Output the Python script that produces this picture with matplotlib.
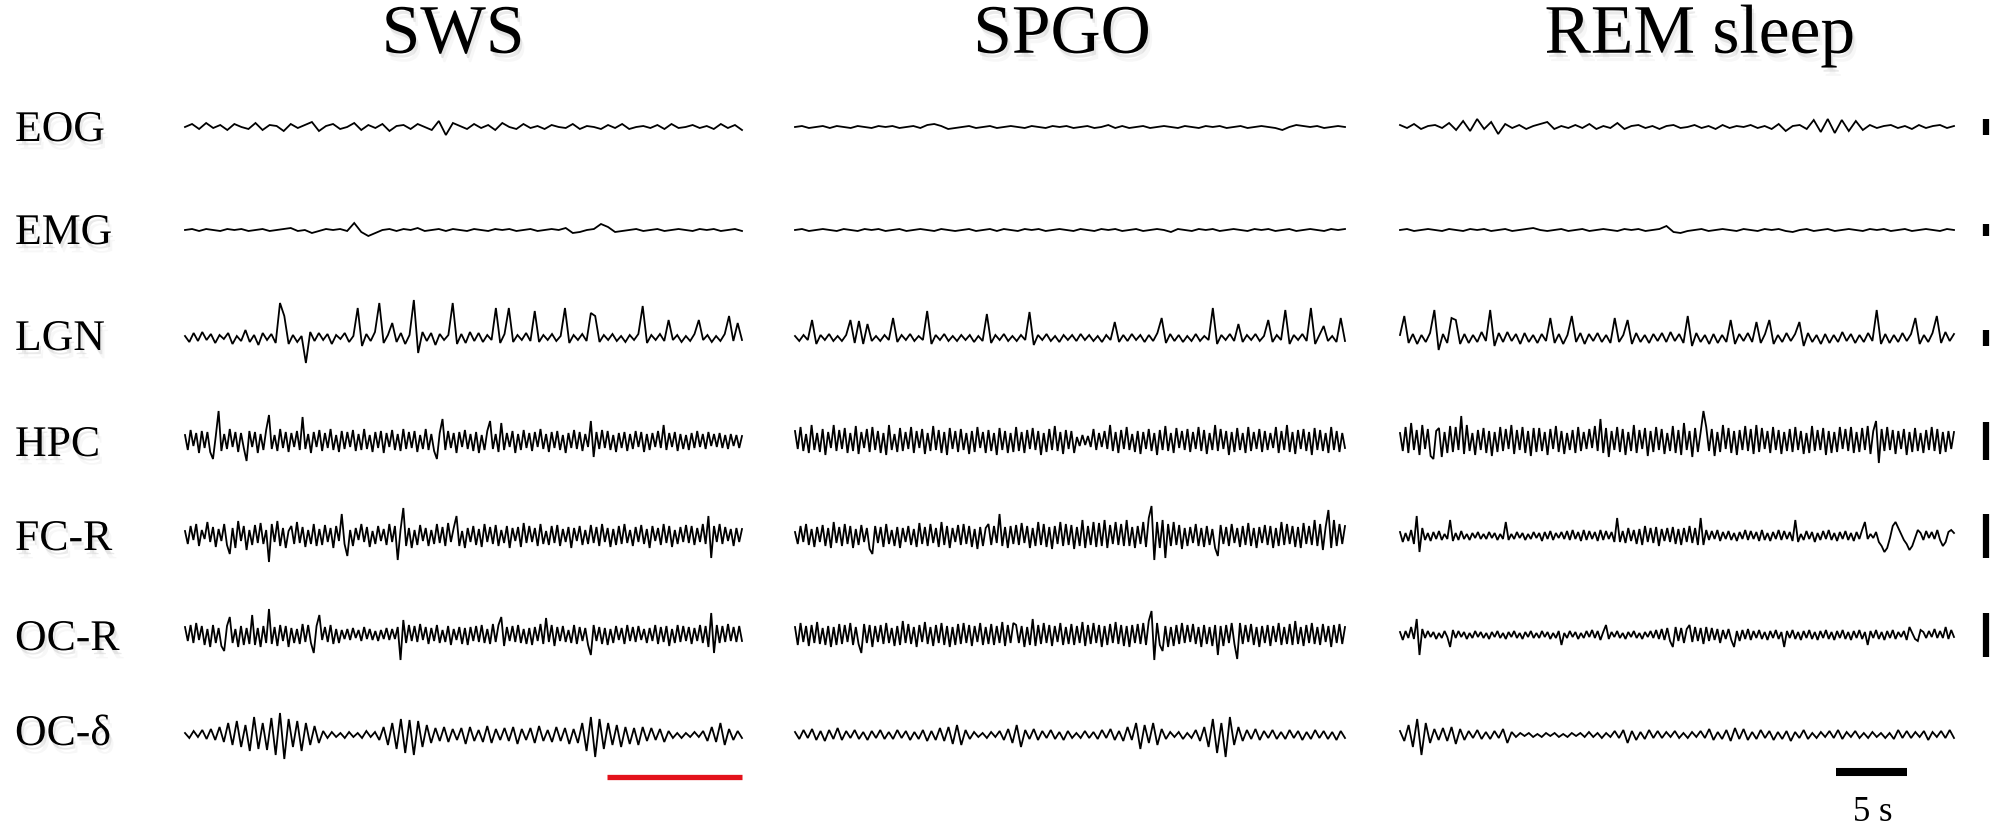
import numpy as np
import matplotlib
matplotlib.use("Agg")
import matplotlib.pyplot as plt
import matplotlib.patheffects as pe

# имена каналов и состояний
CHANNELS = ["EOG", "EMG", "LGN", "HPC", "FC-R", "OC-R", "OC-δ"]
STATES = ["SWS", "SPGO", "REM sleep"]

# амплитуды (примерно, в пикселях; вверх = +)
SWS_EOG = [0, 3, -2, 4, -1, 2, -3, 3, 0, -2, 4, -3, 2, 1, -4, 3, -1, 2, 5, -4,
           1, 3, -2, 0, 4, -3, 2, -1, 3, -4, 1, 2, -2, 3, 0, -3, 6, -8, 4, 1,
           -2, 3, -1, 2, -3, 4, 0, -2, 3, -1, 1, -2, 2, 0, -1, 3, -2, 1, 0, -2,
           2, -1, 3, -2, 0, 1, -1, 2, -2, 3, -1, 0, 2, -1, 1, -2, 3, -1, 2, -3]
SWS_EMG = [0, 1, -1, 1, 0, -1, 1, 0, 1, -1, 0, 1, -1, 0, 1, 2, -1, 0, -3, -1,
           1, 0, 1, -1, 7, -2, -6, -3, 0, 1, -1, 1, 0, 2, -1, 0, 1, -1, 1, 0,
           -1, 1, 0, -1, 1, 0, 1, -1, 0, 1, -1, 0, 1, 0, 2, -3, -2, 0, 1, 6,
           3, -2, -1, 0, 1, -1, 0, 1, -1, 0, 1, 0, -1, 1, 0, 1, -1, 0, 1, -1]
SWS_LGN = [2, -4, 5, -3, 6, -2, 4, -5, 3, -1, 5, -6, 2, -3, 8, -4, 3, -7, 5, -2,
           4, -5, 35, 22, -6, 3, -4, 2, -25, 6, -3, 5, -2, 4, -6, 3, -1, 5, -4, 2,
           30, -8, 4, -3, 6, 35, -5, 3, 15, -4, 5, -6, 3, 38, -15, 6, -3, 5, -7, 4,
           -2, 3, 35, -6, 4, -5, 6, -3, 5, -4, 3, -2, 30, -5, 4, 30, -4, 3, -2, 5,
           -3, 27, -4, 3, -2, 4, -3, 2, 30, -5, 3, -2, 4, -3, 25, 22, -4, 3, -2, 4,
           -3, 2, -4, 3, -2, 4, 32, -5, 3, -2, 4, -3, 18, -2, 3, -4, 2, -3, 4, 18,
           -2, 3, -4, 2, -3, 4, 22, -3, 15, -2]
SWS_HPC = [6, -9, 11, -5, 8, -12, 10, -7, 9, -11, -18, 5, 30, -10, 7, -8, 12, -6, 9, -11,
           8, -7, -20, 10, -6, 9, -12, 7, -9, 11, 26, -8, 6, -10, 12, -7, 9, -11, 8, -6,
           10, -9, 24, -8, 7, -12, 9, -6, 11, -10, 8, -7, 12, -9, 6, -11, 10, -8, 9, -6,
           11, -10, 7, -9, 12, -8, 6, -11, 9, -7, 10, -12, 8, -6, 11, -9, 7, -10, 12, -8,
           9, -7, 10, -11, 6, -8, 12, -9, 7, -10, -18, 8, 22, -9, 10, -7, 8, -12, 9, -6,
           11, -8, 7, -10, 9, -12, 6, -9, 10, 20, -8, 7, -11, 18, -9, 8, -6, 10, -12, 7,
           -9, 11, -7, 8, -10, 9, -6, 12, -8, 7, -11, 9, -7, 10, -9, 6, -12, 8, -7, 11,
           -8, 9, -10, 7, -6, 20, -16, 9, -8, 11, -7, 10, -9, 6, -11, 8, -7, 9, -10, 7,
           -8, 10, -6, 9, -11, 7, -9, 8, -6, 10, -7, 16, -9, 8, -6, 9, -10, 7, -8, 6,
           -9, 8, -7, 10, -6, 7, -8, 9, -5, 7, -6, 8, -7, 6, -8, 7, -5, 6, -7, 5]
SWS_FCR = [5, -8, 10, -4, 12, -10, 6, -3, 14, -6, 9, -11, 7, -5, 12, -9, -18, 8, -12, 15,
           -5, 10, -14, 6, -9, 11, -7, 13, -8, 6, -26, 12, -6, 15, -10, 8, -12, 5, 10, -8,
           14, -7, 9, -11, 6, -8, 12, -10, 7, -9, 11, -6, 8, -12, 10, -5, 22, -8, -20, 6,
           -10, 8, -4, 12, -6, 9, -11, 5, -8, 10, -5, 7, -9, 12, -6, 10, -24, 6, 28, -10,
           8, -12, 6, -9, 11, -5, 8, -10, 6, -8, 12, -7, 9, -10, 13, -6, 8, 20, -10, 5,
           -12, 8, -6, 10, -9, 7, -11, 12, -6, 9, -8, 11, -10, 6, -7, 10, -12, 8, -5, 9,
           -11, 13, -7, 10, -6, 8, -10, 12, -8, 5, -9, 10, -7, 11, -10, 7, -6, 9, -12, 8,
           -5, 10, -9, 6, -8, 11, -7, 9, -10, 12, -6, 8, -11, 7, -9, 10, -8, 12, -7, 6,
           -10, 9, -6, 11, -8, 7, -12, 10, -5, 8, -9, 12, -7, 10, -11, 6, -8, 9, -6, 11,
           -7, 10, -9, 8, -6, 12, -8, 20, -22, 10, -6, 12, -8, 9, -5, 7, -10, 8, -6, 7]
SWS_OCR = [8, -6, 10, -8, 12, -5, 9, -10, 6, -12, 10, -8, 7, -11, -16, 9, 18, -8, 6, -12,
           9, -10, 7, -9, 20, -10, 7, -12, 9, -8, 26, -9, 8, -11, 10, -6, 9, -12, 7, -8,
           6, -9, 11, -7, 10, -8, -18, 9, 20, -5, 8, -7, 10, -9, 6, -8, 5, -4, 6, -5,
           7, -3, 5, -6, 8, -4, 6, -5, 4, -6, 5, -4, 7, -5, 6, -4, 8, -25, 15, -8,
           10, -6, 9, -7, 11, -5, 8, -9, 7, -6, 10, -8, 5, -7, 9, -10, 6, -5, 8, -9,
           7, -10, 8, -6, 9, -7, 10, -8, 6, -9, 11, -7, 10, 18, -11, 8, -6, 9, -7, 10,
           -8, 6, -9, 7, -10, 8, -6, 11, -9, 17, -7, 10, -11, 8, -6, 9, -7, 5, -8, 10,
           -9, 8, -6, 7, -10, -20, 10, -6, 8, -9, 7, -10, 6, -8, 9, -5, 7, -9, 10, -6,
           8, -7, 9, -5, 6, -8, 7, -6, 10, -9, 8, -7, 9, -11, 6, -8, 10, -7, 9, -6,
           8, -9, 7, -6, 10, -8, 9, -12, 22, -18, 10, -8, 9, -7, 11, -6, 8, -7, 9, -6]
SWS_DELTA = [2, -3, 4, -2, 5, -4, 6, -5, 8, -7, 12, -10, 14, -12, 10, -16, 18, -14, 12, -15,
             17, -20, 22, -24, 16, -12, 14, -16, 12, -10, 9, -8, 4, -3, 3, -2, 2, -3, 3, -2,
             2, -3, 4, -2, 3, -5, 8, -10, 12, -14, 16, -18, 15, -20, 14, -12, 10, -8, 7, -6,
             8, -7, 6, -5, 7, -9, 8, -6, 5, -7, 9, -8, 6, -5, 7, -6, 8, -9, 6, -5,
             7, -8, 9, -6, 5, -7, 8, -6, 7, -9, 6, -8, 12, -16, 18, -22, 16, -14, 12, -10,
             10, -12, 8, -9, 7, -10, 8, -6, 7, -5, 6, -7, 4, -3, 2, -3, 2, -2, 3, -2,
             4, -6, 8, -7, 12, -10, 6, -5, 4, -3]

SPGO_EOG = [0, 1, -1, 0, 1, -1, 1, 0, -1, 1, 0, -1, 1, 0, 1, -1, 0, 1, -1, 2,
            3, 1, -2, -1, 0, 1, -1, 0, 1, -1, 0, 1, 0, -1, 1, 0, -1, 1, 0, 1,
            -1, 0, 1, -1, 0, 2, -1, 1, -1, 0, 1, -1, 0, 1, 0, -1, 1, 0, -1, 1,
            0, 1, -1, 0, 1, -1, 0, 1, 0, -1, -3, 0, 2, 1, 0, 1, -1, 0, 1, 0]
SPGO_EMG = [0, 1, -1, 0, 1, 0, -1, 1, 0, -1, 1, 0, 1, -1, 0, 1, -1, 0, 1, 0,
            -1, 1, 0, -1, 0, 1, -1, 0, 1, -1, 1, 0, -1, 1, 0, 1, -1, 0, 1, 0,
            -1, 1, 0, -1, 1, 0, 1, -1, 0, 1, -1, 0, 1, 0, -2, 1, 0, -1, 1, 0,
            1, -1, 0, 1, 0, -1, 1, 0, 1, -1, 0, 1, -1, 0, 1, 0, -1, 1, 0, 1]
SPGO_LGN = [2, -3, 3, -2, 18, -6, 3, -2, 4, -3, 2, -3, 3, 18, -5, 17, -6, 14, -3, 2,
            -3, 3, -2, 20, -4, 3, -2, 4, -3, 2, -2, 27, -6, 3, -2, 4, -3, 2, -3, 3,
            -2, 3, -4, 2, -3, 24, -5, 3, -2, 4, -3, 2, -3, 3, -2, 26, -7, 3, -2, 4,
            -3, 2, -4, 3, -2, 3, -3, 4, -2, 3, -3, 2, -4, 3, -2, 16, -4, 3, -3, 4,
            -2, 3, -4, 3, -3, 5, 20, -5, 4, -3, 3, -4, 2, -3, 4, -3, 2, -2, 30, -6,
            3, -2, 4, -3, 14, -4, 3, -2, 4, -3, 2, 18, -4, 3, -2, 28, -6, 3, -2, 4,
            -3, 30, -6, 3, 12, -3, 2, -4, 20, -3]
SPGO_HPC = [10, -8, 14, -10, 7, -12, 16, -9, 8, -11, 12, -14, 9, -7, 16, -10, 11, -8, 13, -12,
            8, -10, 15, -13, 9, -7, 12, -11, 14, -9, 10, -12, 8, -14, 16, -9, 7, -11, 13, -10,
            9, -8, 14, -12, 10, -7, 12, -13, 8, -10, 15, -9, 11, -12, 9, -14, 13, -8, 10, -11,
            12, -9, 8, -13, 10, -11, 14, -7, 9, -12, 11, -10, 8, -14, 13, -9, 10, -12, 8, -11,
            14, -10, 9, -12, 11, -8, 13, -9, 10, -14, 8, -11, 12, -9, 15, -10, 9, -13, 11, -8,
            10, -12, 4, -5, 6, -4, 5, -6, 12, -9, 8, -6, 10, -8, 16, -10, 9, -12, 11, -8,
            14, -9, 7, -11, 10, -13, 9, -8, 12, -10, 8, -14, 11, -9, 15, -10, 8, -12, 13, -7,
            10, -9, 12, -11, 9, -8, 14, -10, 11, -13, 8, -9, 16, -10, 12, -8, 10, -14, 9, -11,
            13, -9, 8, -12, 14, -10, 9, -8, 12, -11, 10, -9, 8, -7, 14, -12, 10, -9, 16, -11,
            9, -13, 11, -8, 12, -10, 9, -14, 13, -9, 11, -10, 8, -12, 14, -9, 10, -11, 8, -7]
SPGO_FCR = [4, -8, 10, -6, 12, -9, 7, -11, 9, -6, 11, -10, 8, -12, 14, -7, 9, -10, 12, -8,
            10, -12, 7, -9, 11, -6, 8, -13, -18, 10, -7, 9, -11, 12, -8, 6, -10, 9, -12, 8,
            -6, 10, -9, 7, -11, 13, -8, 9, -10, 12, -7, 8, -11, 14, -9, 10, -12, 8, -6, 11,
            -9, 12, -8, 10, -11, 7, -13, 9, -10, 8, 12, -9, 10, -7, 22, -10, 9, -12, 10, -8,
            11, -9, 13, -7, 10, -12, 8, -10, 14, -9, 12, -11, 9, -13, 10, -8, 14, -10, 12, -9,
            11, -13, 9, -10, 16, -12, 10, -9, 14, -11, 13, -10, 16, -12, 11, -8, 14, -9, 12, -10,
            16, -10, 9, -12, 10, -8, 14, -11, 18, 30, -24, 14, -12, 16, -22, 12, -10, 14, -9, 11,
            -13, 8, -10, 9, -7, 12, -10, 8, -11, 10, -9, 7, -12, -20, 11, -8, 9, -10, 12, -7,
            8, -11, 10, -9, 13, -10, 8, -12, 9, -7, 11, -9, 10, -12, 8, -10, 14, -9, 12, -8,
            10, -11, 9, -12, 13, -8, 10, -9, 16, -10, 12, -14, 9, 26, -12, 16, -10, 12, -8, 10]
SPGO_OCR = [8, -10, 12, -7, 9, -11, 10, -8, 13, -9, 7, -10, 9, -12, 8, -10, 11, -9, 10, -7,
            12, -10, 8, -9, -18, 11, -8, 10, -12, 9, -7, 10, -9, 12, -8, 7, -11, 9, -10, 14,
            -8, 11, -9, 8, -12, 10, -7, 13, -9, 8, -11, 10, -8, 12, -10, 9, -12, 8, -10, 11,
            -9, 12, -8, 10, -11, 9, -7, 12, -10, 8, -9, 11, -10, 9, -8, 13, -11, 10, -8, 12,
            10, -8, 9, -12, 8, -10, 16, -11, 10, -9, 12, -8, 10, -11, 9, -7, 12, -10, 8, -9,
            11, -10, 9, -8, 13, -11, 10, -9, 12, -8, 10, -12, 9, -10, 11, -8, 13, -9, 10, -11,
            9, -12, 10, -8, 11, -9, 12, -10, 14, 24, -25, 12, -10, -16, 9, -12, 8, -11, 10, -9,
            12, -8, 10, -7, 11, -9, 8, -12, 10, -9, 8, -11, 10, -20, 9, -11, 10, -8, 12, -9,
            -24, 12, -9, 10, -7, 11, -10, 8, -12, 9, -8, 10, -11, 9, -7, 12, -10, 8, -9, 11,
            -10, 14, -9, 8, -11, 10, -8, 12, -9, 8, -10, 11, -7, 9, -12, 10, -8, 11, -9, 8]
SPGO_DELTA = [3, -4, 5, -3, 6, -5, 4, -6, 5, -4, 7, -5, 4, -3, 5, -4, 3, -5, 4, -3,
              5, -4, 3, -4, 5, -3, 4, -5, 3, -4, 5, -6, 4, -5, 7, -6, 8, -9, 10, -10,
              5, -4, 3, -2, 2, -3, 3, -2, 4, -5, 6, -8, 10, -12, 5, -4, 6, -5, 4, -3,
              5, -4, 3, -5, 4, -3, 2, -3, 4, -3, 3, -4, 5, -3, 6, -5, 4, -6, 8, -5,
              12, -14, 10, -8, 12, -10, 6, -4, 3, -2, 3, -4, 2, -3, 5, -6, 8, -12, 16, -18,
              12, -22, 18, -10, 8, -6, 5, -4, 6, -5, 4, -3, 5, -4, 3, -4, 5, -3, 4, -5,
              3, -4, 5, -3, 4, -4, 3, -5, 4, -3]

REM_EOG = [2, -1, 3, -2, 1, 2, -1, 4, -3, 6, -4, 8, -2, 5, -7, 3, -1, 2, -2, 1,
           3, 5, -2, 1, -1, 2, -1, 3, -2, 1, -1, 4, -2, 1, 2, -1, 1, -2, 1, 2,
           -1, 0, 2, -1, 1, -2, 2, -1, 1, 0, 2, -1, 1, -2, 3, -4, 1, 2, -2, 7,
           -5, 8, -6, 7, -4, 6, -3, 2, -1, 1, 2, -1, 1, -2, 2, -1, 1, 2, -1, 1]
REM_EMG = [0, 1, -1, 0, 1, 0, -1, 1, 0, -1, 1, 0, 1, -1, 0, 1, -1, 0, 1, 2,
           0, -1, 0, 1, -1, 0, 1, -1, 0, 1, 0, -1, 1, 0, 1, -1, 0, 1, 4, -2,
           -3, -1, 0, 1, -1, 0, 1, 0, -1, 1, 0, -1, 1, 0, 1, -1, -2, 0, 1, -1,
           0, 1, -1, 0, 1, 0, -1, 1, 0, 1, -1, 0, 1, -1, 0, 1, 0, -1, 1, 0]
REM_LGN = [3, 22, -5, 4, -6, 3, -4, 5, 28, -12, 4, -5, 20, 18, -6, 4, -5, 3, -4, 6,
           -3, 28, -8, 5, -4, 6, -3, 4, -6, 5, -4, 3, -5, 4, -3, 20, -5, 4, -6, 3,
           22, -4, 5, -6, 4, -3, 5, -4, 3, -5, 20, -4, 3, 18, -6, 5, -4, 3, -5, 4,
           -3, 5, -4, 6, -3, 4, -5, 22, -8, 5, -4, 3, -6, 4, -5, 3, -4, 18, -6, 4,
           -3, 5, -4, 16, -5, 4, 18, -6, 3, -4, 5, -3, 4, 16, -8, 5, -4, 3, -6, 4,
           -5, 3, -4, 6, -3, 4, -5, 3, -4, 5, -3, 28, -6, 4, -5, 3, -4, 5, -3, 4,
           20, -6, 3, -4, 5, 22, -5, 6, -3, 4]
REM_HPC = [8, -10, 14, -12, 18, -9, 11, -14, 16, -8, 12, -15, -18, 10, 13, -16, 9, -12, 15, -11,
           14, -9, 25, -13, 16, -10, 8, -14, 11, -9, 13, -12, 10, -15, 9, -11, 14, -10, 12, -8,
           16, -13, 11, -9, 14, -12, 10, -15, 13, -11, 13, -10, 9, -14, 12, -8, 15, -11, 10, -13,
           8, -9, 11, -12, 14, -10, 9, -8, 12, -7, 15, -10, 22, -12, 13, -16, 10, -9, 14, -11,
           12, -14, 9, -10, 16, -12, 11, -8, 13, -15, 10, -11, 14, -9, 12, -13, 8, -10, 15, -12,
           11, -14, 18, -9, 10, -16, 13, -11, 9, 30, 14, -10, 12, -15, 9, -11, 16, -8, 13, -12,
           10, -14, 11, -9, 15, -10, 12, -13, 16, -11, 13, -8, 10, -12, 14, -9, 11, -13, 9, -10,
           12, -11, 14, -9, 10, -13, 8, -12, 15, -10, 11, -9, 13, -14, 10, -12, 9, -11, 14, -8,
           12, -10, 14, -12, 9, -11, 13, -9, 15, -13, 10, 20, -22, 12, -10, 14, -9, 11, -13, 10,
           -8, 12, -14, 9, -11, 13, -10, 8, -12, 11, -9, 14, -10, 12, -13, 9, -11, 10, -8, 9]
REM_FCR = [4, -6, 3, -5, 6, -8, 20, -16, 8, -4, 3, -5, 4, -3, 5, -4, 2, -3, 16, -5,
           3, -4, 5, -3, 2, -4, 3, -2, 4, -3, 2, -3, 4, -2, 3, -4, 2, -3, 14, -4,
           2, -3, 4, -2, 3, -4, 2, -3, 4, -2, 3, -5, 4, -3, 5, -4, 3, -2, 4, -3,
           5, -4, 6, -3, 4, -5, 6, -4, 5, -3, 4, -5, 6, -4, 5, -3, 4, -6, 18, -6,
           5, -7, 8, -5, 6, -8, 7, -9, 10, -6, 8, -7, 9, -10, 7, -5, 8, -6, 9, -8,
           7, -9, 8, -6, 10, -7, 8, -9, 18, -9, 6, -4, 5, -3, 6, -5, 4, -3, 5, -4,
           3, -5, 4, -3, 6, -4, 5, -3, 4, -5, 6, -4, 3, -5, 4, -3, 6, -4, 5, -3,
           4, -5, 16, -6, 2, -4, 5, -3, 4, -6, 3, -4, 5, -3, 6, -4, 3, -5, 4, -3,
           5, -4, 3, -5, 4, -3, 6, 14, -3, 2, -2, 4, -6, -10, -16, -12, -2, 10, 14, 8,
           2, -4, -8, -14, -10, -2, 6, 3, -4, 5, -2, 4, -3, 6, -4, -10, -6, 4, 6, 3]
REM_OCR = [3, -5, 4, -3, 8, -4, 16, -20, 6, -3, 4, -2, 3, -4, 2, -3, 4, -2, -12, 5,
           -3, 4, -2, 3, -4, 2, -3, 4, -2, 3, -3, 2, -4, 3, -2, 4, -3, 2, -4, 3,
           -2, 4, -3, 2, -4, 3, -2, 4, -3, 2, -3, 4, -2, 3, -4, 2, -3, 4, -10, 2,
           -3, 4, -2, 3, -4, 2, -3, 4, -2, 5, -3, 4, -5, 3, 10, -4, 3, -2, 4, -3,
           2, -4, 3, -2, 4, -3, 2, -4, 3, -2, 4, -3, 5, -4, 6, -5, 7, -6, -12, 8,
           -6, 7, -8, 6, 10, -7, 8, -6, 7, -9, 8, -6, 7, -5, 6, -8, 5, -4, 6, -5,
           -12, 4, -6, 5, -4, 6, -5, 4, -3, 5, -4, 3, -5, 4, -3, 5, -4, 3, -12, 4,
           -3, 5, -4, 3, -5, 4, -3, 5, -4, 3, -5, 4, -3, 5, -4, 3, -5, 4, -3, 5,
           -4, 3, -5, 4, -3, 5, -4, 3, -10, 4, -3, 5, -4, 3, -5, 4, -3, 5, -4, 3,
           -2, 4, -5, 8, 2, -4, -6, 5, 3, -3, 4, -2, 6, -3, 4, -3, 8, -4, 5, -2]
REM_DELTA = [4, -6, 10, -12, 16, -20, 12, -8, 6, -5, 7, -6, 8, -9, 6, -5, 4, -3, 5, -4,
             3, -4, 4, -3, 6, -8, 3, -2, 2, -1, 2, -2, 1, -2, 2, -1, 2, -2, 1, -2,
             2, -1, 2, -2, 3, -2, 2, -3, 2, -2, 4, -3, 5, -8, 4, -5, 3, -4, 5, -3,
             4, -3, 3, -2, 4, -3, 2, -3, 3, -2, 4, -3, 6, -5, 3, -4, 5, -6, 7, -4,
             6, -5, 3, -4, 5, -3, 4, -5, 3, -4, 4, -6, 3, -3, 5, -4, 2, -3, 3, -2,
             4, -3, 5, -4, 3, -2, 4, -3, 2, -3, 3, -2, 2, -3, 2, -4, 5, -3, 4, -3,
             3, -2, 4, -5, 3, -2, 4, -3, 5, -3]

TRACES = {
    "SWS": [SWS_EOG, SWS_EMG, SWS_LGN, SWS_HPC, SWS_FCR, SWS_OCR, SWS_DELTA],
    "SPGO": [SPGO_EOG, SPGO_EMG, SPGO_LGN, SPGO_HPC, SPGO_FCR, SPGO_OCR, SPGO_DELTA],
    "REM sleep": [REM_EOG, REM_EMG, REM_LGN, REM_HPC, REM_FCR, REM_OCR, REM_DELTA],
}

# вертикальные шкалы справа (полувысота в пикселях), у OC-δ нет
SCALE_HALF = [8, 6, 8, 19, 22, 22, None]

# ---- раскладка (пиксели исходной картинки) ----
W, H = 1997, 837
ROW_Y = [128, 231, 339, 442, 537, 636, 736]
LABEL_Y = [131, 234, 340, 446, 540, 640, 735]
COL_X = {"SWS": (185, 742), "SPGO": (795, 1345), "REM sleep": (1400, 1954)}
TITLE_X = {"SWS": 453, "SPGO": 1062, "REM sleep": 1700}

SERIF = ["Liberation Serif", "DejaVu Serif"]


def shadow():
    return [pe.SimplePatchShadow(offset=(1.5, -3), shadow_rgbFace="0.55", alpha=0.18),
            pe.SimplePatchShadow(offset=(3, -6), shadow_rgbFace="0.6", alpha=0.08),
            pe.Normal()]


def main():
    fig = plt.figure(figsize=(W / 100, H / 100), dpi=100)
    ax = fig.add_axes([0, 0, 1, 1])
    ax.set_xlim(0, W)
    ax.set_ylim(H, 0)
    ax.axis("off")

    # заголовки
    for st in STATES:
        ax.text(TITLE_X[st], 37, st, ha="center", va="center", fontsize=50,
                family=SERIF, path_effects=shadow())

    # подписи каналов
    for ch, y in zip(CHANNELS, LABEL_Y):
        ax.text(15, y, ch, ha="left", va="center", fontsize=31.5,
                family=SERIF, path_effects=shadow())

    # сами записи
    for st in STATES:
        x0, x1 = COL_X[st]
        for vals, y0 in zip(TRACES[st], ROW_Y):
            v = np.asarray(vals, dtype=float)
            x = np.linspace(x0, x1, len(v))
            ax.plot(x, y0 - v, color="black", lw=1.3, solid_joinstyle="miter")

    # вертикальные калибровочные отрезки
    for half, y0 in zip(SCALE_HALF, ROW_Y):
        if half is None:
            continue
        ax.plot([1986, 1986], [y0 - half, y0 + half], color="black", lw=4.5,
                solid_capstyle="butt")

    # красная отметка и шкала 5 с
    ax.plot([607, 742], [778, 778], color="#e3121b", lw=3.8, solid_capstyle="butt")
    ax.plot([1836, 1907], [773, 773], color="black", lw=5.8, solid_capstyle="butt")
    ax.text(1873, 813, "5 s", ha="center", va="center", fontsize=25, family=SERIF)

    fig.savefig("out.png", dpi=100)
    plt.close(fig)


if __name__ == "__main__":
    main()
